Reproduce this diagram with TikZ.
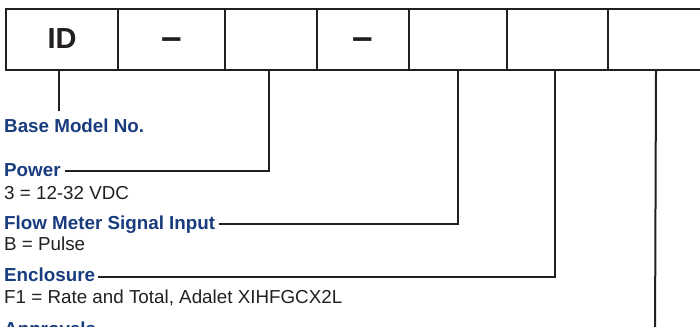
\documentclass[tikz,border=0pt]{standalone}
\usepackage{fontspec}
\setmainfont{Liberation Sans}
\definecolor{navy}{RGB}{24,60,125}
\definecolor{ink}{RGB}{35,31,32}
\begin{document}
\begin{tikzpicture}[x=1pt,y=-1pt,
  cell/.style={draw=ink,line width=2pt,minimum height=61pt,inner sep=0pt,anchor=north west,
    text=ink,font=\bfseries\fontsize{29}{30}\selectfont},
  head/.style={anchor=base west,inner sep=0pt,text=navy,font=\bfseries\fontsize{18.8}{20}\selectfont},
  desc/.style={anchor=base west,inner sep=0pt,text=ink,font=\fontsize{18.8}{20}\selectfont},
  lead/.style={draw=ink,line width=2pt}]
\useasboundingbox (0,0) rectangle (700,326);
\clip (0,0) rectangle (700,326);
% code boxes
\node[cell,minimum width=112pt] (c1) at (5,8) {\raisebox{1.5pt}{ID}};
\node[cell,minimum width=107pt] (c2) at (117,8) {\fontsize{37}{37}\selectfont\raisebox{-10.5pt}[0pt][0pt]{–}};
\node[cell,minimum width=92pt] (c3) at (224,8) {};
\node[cell,minimum width=92pt] (c4) at (316,8) {\fontsize{37}{37}\selectfont\raisebox{-10.5pt}[0pt][0pt]{–}};
\node[cell,minimum width=98pt] (c5) at (408,8) {};
\node[cell,minimum width=101pt] (c6) at (506,8) {};
\node[cell,minimum width=96pt] (c7) at (607,8) {};
% labels
\node[head] (base) at (4,132) {Base Model No.};
\node[head] (power) at (4,176) {Power};
\node[desc] (pv) at (4,199) {3 = 12-32 VDC};
\node[head] (flow) at (4,229) {Flow Meter Signal Input};
\node[desc] (fv) at (4,250) {B = Pulse};
\node[head] (encl) at (4,281) {Enclosure};
\node[desc] (ev) at (4,303) {F1 = Rate and Total, Adalet XIHFGCX2L};
\node[head] (appr) at (4,335) {Approvals};
% connectors
\coordinate (b1) at (59,111);
\coordinate (a1) at (655,340);
\draw[lead] (c1.south -| b1) -- (b1);
\draw[lead] ([xshift=4pt,yshift=5pt]power.base east) -| ([xshift=-2pt]c3.south);
\draw[lead] ([xshift=4pt,yshift=5pt]flow.base east) -| (c5.south);
\draw[lead] ([xshift=3pt,yshift=4pt]encl.base east) -| ([xshift=-2.5pt]c6.south);
\draw[lead] (c7.south) -- (a1);
\end{tikzpicture}
\end{document}
